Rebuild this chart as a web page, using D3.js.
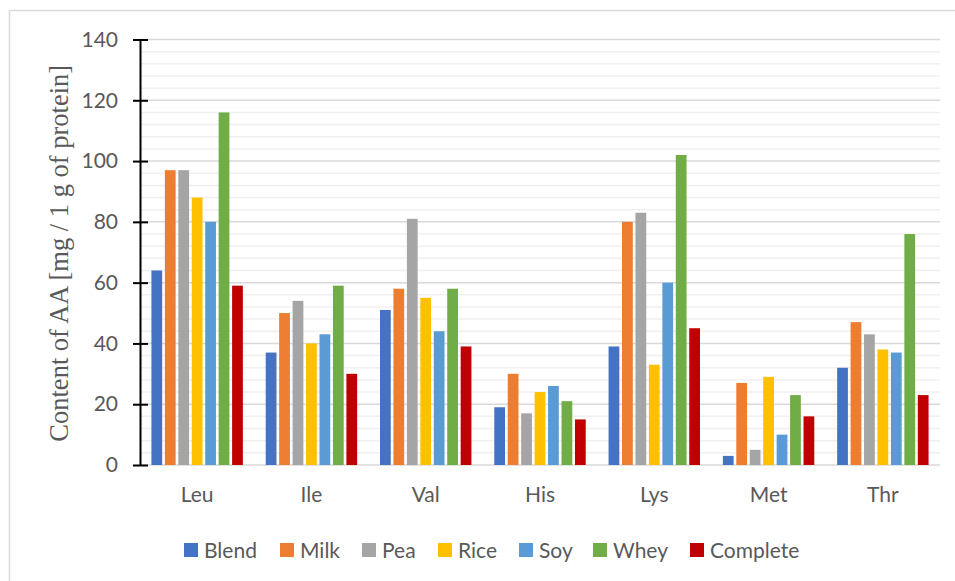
<!DOCTYPE html>
<html><head><meta charset="utf-8">
<script src="https://cdn.jsdelivr.net/npm/d3@7"></script>
<style>body{margin:0;background:#fff}svg{display:block}</style>
</head><body>
<svg id="c" width="955" height="581"></svg>
<script>
const categories = ["Leu","Ile","Val","His","Lys","Met","Thr"];
const seriesNames = ["Blend","Milk","Pea","Rice","Soy","Whey","Complete"];
const colors = ["#4472C4","#ED7D31","#A5A5A5","#FFC000","#5B9BD5","#70AD47","#C00000"];
const blend = [64,37,51,19,39,3,32];
const milk = [97,50,58,30,80,27,47];
const pea = [97,54,81,17,83,5,43];
const rice = [88,40,55,24,33,29,38];
const soy = [80,43,44,26,60,10,37];
const whey = [116,59,58,21,102,23,76];
const complete = [59,30,39,15,45,16,23];
const yTicks = [0,20,40,60,80,100,120,140];
const yTitle = "Content of AA [mg / 1 g of protein]";

const series = [blend,milk,pea,rice,soy,whey,complete];
const svg = d3.select("#c");
const L = 140, R = 940, T = 39.5, B = 465;
const FONT = "Lato, Calibri, Carlito, sans-serif";

// chart border
svg.append("rect").attr("x",9.5).attr("y",10.5).attr("width",960).attr("height",600)
  .attr("fill","none").attr("stroke","#d9d9d9").attr("stroke-width",1.5);

const y = d3.scaleLinear().domain([0,140]).range([B,T]);
const x0 = d3.scaleBand().domain(categories).range([L,R]).paddingInner(0.2).paddingOuter(0.1);
const x1 = d3.scaleBand().domain(seriesNames).range([0,x0.bandwidth()]).paddingInner(0.2);

// minor gridlines
const minor = d3.range(0,141,4).filter(v=>v%20!==0);
svg.append("g").selectAll("line").data(minor).join("line")
  .attr("x1",L).attr("x2",R).attr("y1",d=>y(d)).attr("y2",d=>y(d))
  .attr("stroke","#f0f0f0").attr("stroke-width",1.5);
// major gridlines
svg.append("g").selectAll("line").data(yTicks).join("line")
  .attr("x1",L).attr("x2",R).attr("y1",d=>y(d)).attr("y2",d=>y(d))
  .attr("stroke","#d9d9d9").attr("stroke-width",1.5);

// bars
const g = svg.append("g");
categories.forEach((c,i)=>{
  seriesNames.forEach((s,j)=>{
    g.append("rect")
      .attr("x",x0(c)+x1(s)).attr("width",x1.bandwidth())
      .attr("y",y(series[j][i])).attr("height",B-y(series[j][i]))
      .attr("fill",colors[j]);
  });
});

// y axis
const yAxis = d3.axisLeft(y).tickValues(yTicks).tickSize(0).tickPadding(22);
const ya = svg.append("g").attr("transform",`translate(${L},0)`).call(yAxis);
ya.select(".domain").attr("stroke","#000").attr("stroke-width",2);
ya.selectAll("text").attr("font-family",FONT).attr("font-size",21).attr("fill","#595959");
ya.selectAll(".tick").append("line").attr("x1",-7).attr("x2",8).attr("stroke","#000").attr("stroke-width",2);

// x axis labels
const xAxis = d3.axisBottom(x0).tickSize(0).tickPadding(22);
const xa = svg.append("g").attr("transform",`translate(0,${B})`).call(xAxis);
xa.select(".domain").remove();
xa.selectAll("text").attr("font-family",FONT).attr("font-size",21).attr("fill","#595959");

// y title
svg.append("text").attr("transform",`translate(68,${(T+B)/2+1}) rotate(-90)`)
  .attr("text-anchor","middle").attr("font-family","'Liberation Serif','Times New Roman',serif")
  .attr("font-size",26.5).attr("fill","#595959").text(yTitle);

// legend
const legX = [184,280,362,438,519,593,690];
const lg = svg.append("g");
seriesNames.forEach((s,j)=>{
  lg.append("rect").attr("x",legX[j]).attr("y",543).attr("width",14).attr("height",14).attr("fill",colors[j]);
  lg.append("text").attr("x",legX[j]+20).attr("y",557.5).attr("font-family",FONT)
    .attr("font-size",21).attr("fill","#595959").text(s);
});
</script>
</body></html>
